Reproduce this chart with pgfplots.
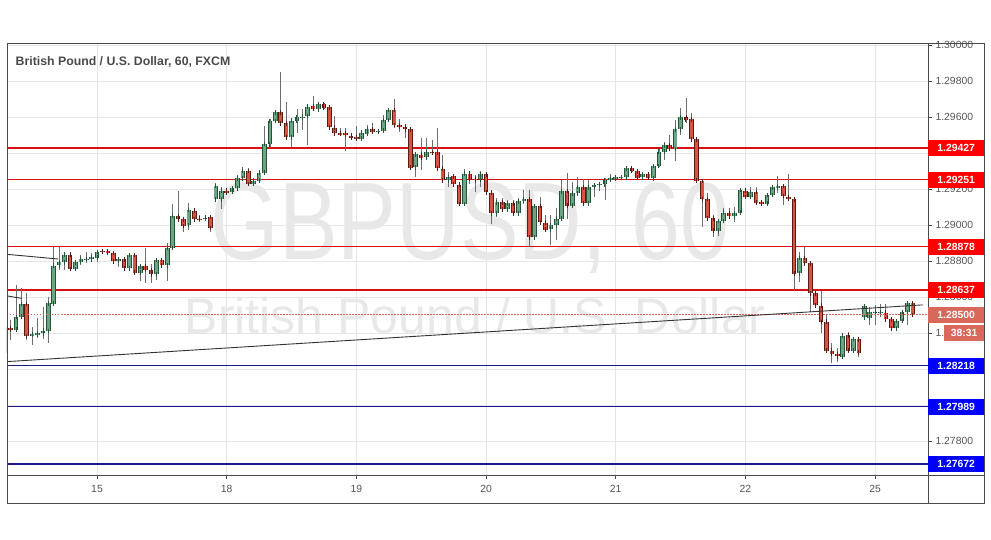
\documentclass[border=0pt]{standalone}
\usepackage{graphicx}
\usepackage{pgfplots}
\pgfplotsset{compat=1.18}
\usepackage{pgfplotstable}
\usepackage{fontspec}
\setmainfont{Liberation Sans}
\definecolor{upfill}{HTML}{6BA583}
\definecolor{downfill}{HTML}{D75442}
\definecolor{upline}{HTML}{225437}
\definecolor{downline}{HTML}{5B1A13}
\definecolor{wickc}{HTML}{6E6E70}
\definecolor{framegray}{HTML}{4A4A4A}
\definecolor{gridgray}{HTML}{E6E6E6}
\definecolor{labelgray}{HTML}{555555}
\definecolor{wm}{HTML}{E8E8E8}
\definecolor{lvlred}{HTML}{D81010}
\definecolor{lvlblue}{HTML}{1A1A8A}
\definecolor{boxred}{HTML}{FF0000}
\definecolor{boxblue}{HTML}{0000FF}
\definecolor{pricebox}{HTML}{D9675A}
\definecolor{trend}{HTML}{333333}

\pgfplotstableread{
i o h l c
-17 1.28290 1.28440 1.28270 1.28430
-16 1.28428 1.28471 1.28360 1.28419
-15 1.28419 1.28666 1.28415 1.28490
-14 1.28490 1.28647 1.28486 1.28560
-13 1.28560 1.28623 1.28360 1.28384
-12 1.28390 1.28434 1.28332 1.28392
-11 1.28392 1.28480 1.28369 1.28397
-10 1.28397 1.28545 1.28369 1.28412
-9 1.28412 1.28601 1.28345 1.28564
-8 1.28564 1.28875 1.28554 1.28775
-7 1.28775 1.28875 1.28749 1.28792
-6 1.28792 1.28851 1.28749 1.28836
-5 1.28836 1.28842 1.28749 1.28756
-4 1.28756 1.28804 1.28745 1.28793
-3 1.28793 1.28832 1.28777 1.28810
-2 1.28810 1.28847 1.28786 1.28811
-1 1.28808 1.28842 1.28795 1.28819
0 1.28819 1.28860 1.28795 1.28849
1 1.28856 1.28864 1.28843 1.28853
2 1.28854 1.28864 1.28832 1.28843
3 1.28842 1.28845 1.28786 1.28797
4 1.28799 1.28819 1.28767 1.28810
5 1.28808 1.28812 1.28753 1.28758
6 1.28758 1.28836 1.28753 1.28832
7 1.28832 1.28835 1.28721 1.28734
8 1.28736 1.28775 1.28690 1.28771
9 1.28771 1.28873 1.28675 1.28749
10 1.28749 1.28782 1.28675 1.28725
11 1.28725 1.28812 1.28693 1.28804
12 1.28804 1.28817 1.28764 1.28775
13 1.28775 1.28897 1.28690 1.28871
14 1.28871 1.29119 1.28864 1.29049
15 1.29049 1.29190 1.29027 1.29030
16 1.29030 1.29045 1.28962 1.28993
17 1.29000 1.29120 1.28972 1.29083
18 1.29079 1.29092 1.29025 1.29031
19 1.29036 1.29055 1.29018 1.29034
20 1.29038 1.29055 1.29022 1.29041
21 1.29042 1.29049 1.28962 1.28981
22 1.29142 1.29235 1.29138 1.29216
23 1.29142 1.29212 1.29086 1.29190
24 1.29190 1.29203 1.29166 1.29179
25 1.29183 1.29212 1.29175 1.29203
26 1.29203 1.29277 1.29197 1.29259
27 1.29259 1.29320 1.29253 1.29301
28 1.29301 1.29314 1.29222 1.29227
29 1.29227 1.29259 1.29222 1.29246
30 1.29246 1.29296 1.29240 1.29290
31 1.29290 1.29549 1.29286 1.29448
32 1.29448 1.29590 1.29435 1.29577
33 1.29577 1.29629 1.29564 1.29625
34 1.29625 1.29848 1.29555 1.29564
35 1.29564 1.29685 1.29481 1.29486
36 1.29486 1.29583 1.29431 1.29579
37 1.29579 1.29642 1.29512 1.29598
38 1.29598 1.29642 1.29527 1.29601
39 1.29605 1.29666 1.29444 1.29657
40 1.29657 1.29716 1.29640 1.29642
41 1.29642 1.29685 1.29640 1.29670
42 1.29670 1.29679 1.29642 1.29653
43 1.29653 1.29657 1.29536 1.29542
44 1.29542 1.29605 1.29499 1.29509
45 1.29509 1.29536 1.29499 1.29508
46 1.29509 1.29540 1.29410 1.29501
47 1.29496 1.29505 1.29475 1.29487
48 1.29487 1.29549 1.29472 1.29479
49 1.29479 1.29518 1.29472 1.29512
50 1.29508 1.29555 1.29505 1.29531
51 1.29531 1.29564 1.29518 1.29519
52 1.29519 1.29535 1.29515 1.29523
53 1.29523 1.29610 1.29519 1.29582
54 1.29582 1.29647 1.29579 1.29638
55 1.29638 1.29699 1.29536 1.29554
56 1.29554 1.29586 1.29518 1.29549
57 1.29545 1.29558 1.29481 1.29531
58 1.29531 1.29536 1.29315 1.29319
59 1.29319 1.29397 1.29268 1.29392
60 1.29392 1.29484 1.29305 1.29375
61 1.29375 1.29484 1.29369 1.29403
62 1.29403 1.29471 1.29397 1.29402
63 1.29403 1.29536 1.29305 1.29314
64 1.29314 1.29388 1.29245 1.29249
65 1.29249 1.29295 1.29212 1.29268
66 1.29268 1.29271 1.29221 1.29225
67 1.29225 1.29227 1.29110 1.29118
68 1.29118 1.29308 1.29112 1.29286
69 1.29286 1.29295 1.29227 1.29258
70 1.29258 1.29277 1.29184 1.29253
71 1.29253 1.29301 1.29212 1.29281
72 1.29281 1.29290 1.29175 1.29180
73 1.29180 1.29184 1.29008 1.29064
74 1.29064 1.29147 1.29042 1.29125
75 1.29125 1.29151 1.29079 1.29086
76 1.29086 1.29138 1.29079 1.29119
77 1.29119 1.29138 1.29060 1.29064
78 1.29064 1.29147 1.29060 1.29132
79 1.29132 1.29193 1.29119 1.29142
80 1.29142 1.29197 1.28879 1.28931
81 1.28931 1.29110 1.28925 1.29105
82 1.29105 1.29153 1.29008 1.29014
83 1.29014 1.29055 1.28971 1.28975
84 1.28975 1.29055 1.28888 1.28999
85 1.28999 1.29092 1.28916 1.29036
86 1.29036 1.29249 1.29031 1.29188
87 1.29188 1.29287 1.29031 1.29107
88 1.29107 1.29240 1.29101 1.29175
89 1.29175 1.29268 1.29166 1.29209
90 1.29209 1.29253 1.29116 1.29120
91 1.29120 1.29249 1.29116 1.29209
92 1.29209 1.29231 1.29157 1.29222
93 1.29222 1.29235 1.29185 1.29227
94 1.29225 1.29259 1.29142 1.29249
95 1.29249 1.29281 1.29240 1.29259
96 1.29259 1.29275 1.29257 1.29266
97 1.29264 1.29270 1.29260 1.29265
98 1.29264 1.29320 1.29259 1.29314
99 1.29314 1.29318 1.29294 1.29299
100 1.29299 1.29305 1.29257 1.29264
101 1.29264 1.29287 1.29257 1.29281
102 1.29281 1.29287 1.29253 1.29259
103 1.29259 1.29333 1.29249 1.29327
104 1.29327 1.29425 1.29324 1.29407
105 1.29407 1.29462 1.29361 1.29442
106 1.29442 1.29499 1.29416 1.29422
107 1.29422 1.29583 1.29357 1.29531
108 1.29531 1.29648 1.29499 1.29598
109 1.29598 1.29703 1.29564 1.29586
110 1.29586 1.29620 1.29472 1.29475
111 1.29475 1.29490 1.29231 1.29244
112 1.29244 1.29249 1.28987 1.29144
113 1.29144 1.29175 1.29031 1.29037
114 1.29037 1.29055 1.28935 1.28968
115 1.28968 1.29027 1.28935 1.29022
116 1.29022 1.29092 1.29012 1.29068
117 1.29068 1.29096 1.29042 1.29049
118 1.29049 1.29101 1.29018 1.29068
119 1.29068 1.29198 1.29064 1.29194
120 1.29190 1.29197 1.29153 1.29156
121 1.29156 1.29212 1.29153 1.29184
122 1.29184 1.29212 1.29123 1.29125
123 1.29125 1.29129 1.29114 1.29119
124 1.29119 1.29175 1.29116 1.29166
125 1.29166 1.29216 1.29160 1.29208
126 1.29208 1.29271 1.29175 1.29216
127 1.29216 1.29230 1.29110 1.29160
128 1.29156 1.29282 1.29138 1.29143
129 1.29143 1.29153 1.28638 1.28730
130 1.28730 1.28849 1.28684 1.28817
131 1.28817 1.28875 1.28782 1.28786
132 1.28786 1.28786 1.28517 1.28619
133 1.28619 1.28634 1.28545 1.28553
134 1.28553 1.28634 1.28401 1.28462
135 1.28462 1.28499 1.28295 1.28301
136 1.28301 1.28345 1.28234 1.28282
137 1.28282 1.28314 1.28240 1.28269
138 1.28269 1.28393 1.28258 1.28386
139 1.28386 1.28404 1.28286 1.28301
140 1.28301 1.28379 1.28293 1.28364
141 1.28364 1.28379 1.28267 1.28290
142 1.28486 1.28554 1.28480 1.28549
143 1.28486 1.28545 1.28443 1.28516
144 1.28512 1.28554 1.28443 1.28514
145 1.28512 1.28560 1.28490 1.28516
146 1.28512 1.28560 1.28462 1.28475
147 1.28475 1.28490 1.28412 1.28425
148 1.28425 1.28475 1.28419 1.28467
149 1.28467 1.28523 1.28453 1.28516
150 1.28516 1.28573 1.28443 1.28564
151 1.28564 1.28571 1.28490 1.28500
}\candles

\begin{document}
\begin{tikzpicture}[x=1pt,y=1pt]
\path[use as bounding box] (0,0) rectangle (991,539);
\begin{axis}[
  at={(7pt,64pt)}, anchor=south west,
  width=921pt, height=432pt, scale only axis,
  xmin=-16.66, xmax=153.8, ymin=1.27610, ymax=1.30010,
  clip mode=individual,
  axis line style={draw=framegray, line width=0.8pt},
  xtick={0,24,48,72,96,120,144},
  xticklabels={15,18,19,20,21,22,25},
  ytick={1.278,1.280,1.282,1.284,1.286,1.288,1.290,1.292,1.294,1.296,1.298,1.300},
  yticklabels={1.27800,,,1.28400,1.28600,1.28800,1.29000,1.29200,1.29400,1.29600,1.29800,1.30000},
  ytick pos=right, yticklabel pos=right,
  xtick pos=bottom,
  tick align=outside, major tick length=4pt,
  tick style={draw=framegray, line width=0.6pt},
  grid=major, major grid style={draw=gridgray, line width=0.6pt},
  ticklabel style={font=\fontsize{10.4pt}{12pt}\selectfont, text=labelgray},
  xticklabel style={yshift=-3pt},
]
% watermark
\node[text=wm, anchor=base, inner sep=0pt] at (axis cs:69,1.28805) {\scalebox{0.8}[1]{\fontsize{110pt}{120pt}\selectfont GBPUSD, 60}};
\node[text=wm, font=\fontsize{50pt}{56pt}\selectfont, anchor=base, inner sep=0pt] at (axis cs:70,1.28394) {British Pound / U.S. Dollar};

% level lines
\addplot[forget plot, draw=lvlred, line width=1.4pt] coordinates {(-16.66,1.29427) (153.8,1.29427)};
\addplot[forget plot, draw=lvlred, line width=1.4pt] coordinates {(-16.66,1.29251) (153.8,1.29251)};
\addplot[forget plot, draw=lvlred, line width=1.4pt] coordinates {(-16.66,1.28878) (153.8,1.28878)};
\addplot[forget plot, draw=lvlred, line width=1.4pt] coordinates {(-16.66,1.28637) (153.8,1.28637)};
\addplot[forget plot, draw=lvlblue, line width=1.4pt] coordinates {(-16.66,1.28218) (153.8,1.28218)};
\addplot[forget plot, draw=lvlblue, line width=1.4pt] coordinates {(-16.66,1.27989) (153.8,1.27989)};
\addplot[forget plot, draw=lvlblue, line width=1.4pt] coordinates {(-16.66,1.27672) (153.8,1.27672)};

% wicks
\addplot[draw=none, mark=none, forget plot,
  error bars/.cd, y dir=both, y explicit, error mark=none,
  error bar style={draw=wickc, line width=0.8pt}]
  table[x=i, y expr={(\thisrow{h}+\thisrow{l})/2},
        y error expr={(\thisrow{h}-\thisrow{l})/2}] {\candles};
% up bodies
\addplot[draw=none, mark=none, forget plot,
  error bars/.cd, y dir=both, y explicit, error mark=none,
  error bar style={draw=upline, line width=4.6pt}]
  table[x=i, y expr={\thisrow{c}>=\thisrow{o} ? (\thisrow{o}+\thisrow{c})/2 : nan},
        y error expr={abs(\thisrow{c}-\thisrow{o})/2}] {\candles};
\addplot[draw=none, mark=none, forget plot,
  error bars/.cd, y dir=both, y explicit, error mark=-,
  error bar style={draw=upfill, line width=2.8pt},
  error mark options={draw=upline, line width=0.9pt, mark size=2.3pt}]
  table[x=i, y expr={\thisrow{c}>=\thisrow{o} ? (\thisrow{o}+\thisrow{c})/2 : nan},
        y error expr={abs(\thisrow{c}-\thisrow{o})/2}] {\candles};
% down bodies
\addplot[draw=none, mark=none, forget plot,
  error bars/.cd, y dir=both, y explicit, error mark=none,
  error bar style={draw=downline, line width=4.6pt}]
  table[x=i, y expr={\thisrow{c}<\thisrow{o} ? (\thisrow{o}+\thisrow{c})/2 : nan},
        y error expr={abs(\thisrow{c}-\thisrow{o})/2}] {\candles};
\addplot[draw=none, mark=none, forget plot,
  error bars/.cd, y dir=both, y explicit, error mark=-,
  error bar style={draw=downfill, line width=2.8pt},
  error mark options={draw=downline, line width=0.9pt, mark size=2.3pt}]
  table[x=i, y expr={\thisrow{c}<\thisrow{o} ? (\thisrow{o}+\thisrow{c})/2 : nan},
        y error expr={abs(\thisrow{c}-\thisrow{o})/2}] {\candles};

% price line
\addplot[forget plot, draw=pricebox, line width=0.7pt, dash pattern=on 1.5pt off 1.5pt] coordinates {(-16.66,1.28500) (153.8,1.28500)};
% trend lines
\addplot[forget plot, draw=trend, line width=0.9pt] coordinates {(-16.66,1.28240) (152.8,1.28555)};
\addplot[forget plot, draw=trend, line width=0.9pt] coordinates {(-16.66,1.28836) (-7.2,1.28810)};
\addplot[forget plot, draw=trend, line width=0.9pt] coordinates {(-16.66,1.28605) (-13.9,1.28591)};

\coordinate (L1) at (axis cs:153.8,1.29427);
\coordinate (L2) at (axis cs:153.8,1.29251);
\coordinate (L3) at (axis cs:153.8,1.28878);
\coordinate (L4) at (axis cs:153.8,1.28637);
\coordinate (L5) at (axis cs:153.8,1.28500);
\coordinate (L6) at (axis cs:153.8,1.28218);
\coordinate (L7) at (axis cs:153.8,1.27989);
\coordinate (L8) at (axis cs:153.8,1.27672);
\end{axis}
% outer frame
\draw[framegray, line width=0.8pt] (7,36) rectangle (984,496);
\draw[framegray, line width=0.8pt] (928,36) -- (928,496);
\draw[framegray, line width=0.8pt] (7,64) -- (984,64);
% title
\node[anchor=base west, inner sep=0pt, text=framegray, font=\bfseries\fontsize{12.3pt}{14pt}\selectfont] at (15.5,473.3) {British Pound / U.S. Dollar, 60, FXCM};
% price boxes
\tikzset{pbox/.style={anchor=west, inner sep=0pt, minimum width=56pt, minimum height=16pt, text=white, font=\bfseries\fontsize{10.4pt}{12pt}\selectfont}}
\node[pbox, fill=boxred] at (L1) {1.29427};
\node[pbox, fill=boxred] at (L2) {1.29251};
\node[pbox, fill=boxred] at (L3) {1.28878};
\node[pbox, fill=boxred] at (L4) {1.28637};
\node[pbox, fill=pricebox] at (L5) {1.28500};
\node[pbox, fill=pricebox, minimum width=40pt, anchor=north west] at ([xshift=16pt,yshift=-9.5pt]L5) {38:31};
\node[pbox, fill=boxblue] at (L6) {1.28218};
\node[pbox, fill=boxblue] at (L7) {1.27989};
\node[pbox, fill=boxblue] at (L8) {1.27672};
\end{tikzpicture}
\end{document}
